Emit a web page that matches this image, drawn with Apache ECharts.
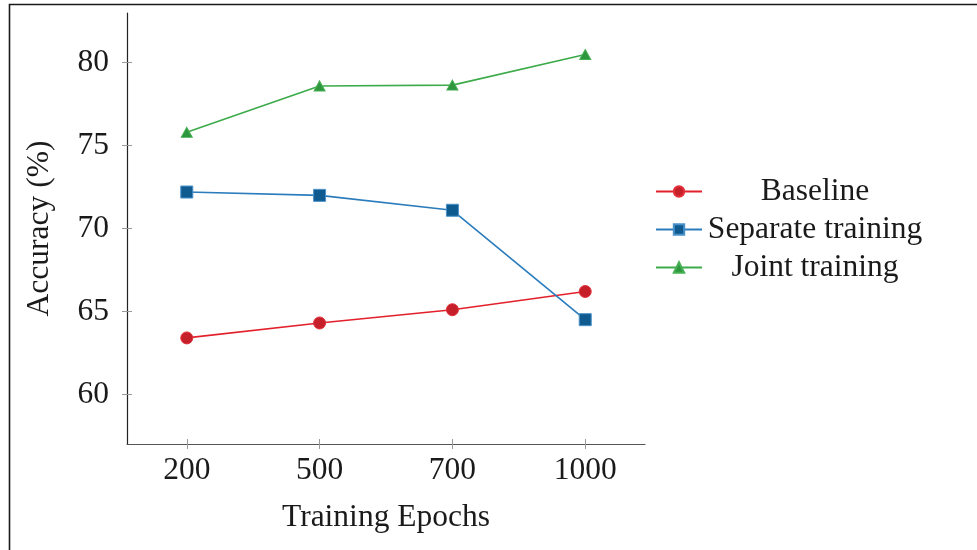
<!DOCTYPE html>
<html>
<head>
<meta charset="utf-8">
<script src="https://cdn.jsdelivr.net/npm/echarts@6/dist/echarts.min.js"></script>
<style>
  html, body { margin: 0; padding: 0; background: #fff; }
  #chart { width: 977px; height: 550px; }
</style>
</head>
<body>
<div id="chart"></div>
<script>
// Training epochs (x categories) and accuracy per method
const epochs = ['200', '500', '700', '1000'];
const baseline = [63.4, 64.3, 65.1, 66.2];
const separateTraining = [72.2, 72.0, 71.1, 64.5];
const jointTraining = [75.8, 78.6, 78.65, 80.5];
const yTicks = [60, 65, 70, 75, 80];

const FONT = 'Liberation Serif';
const FS = 31.5;
const xIdx = epochs.map((_, i) => i);
const pairs = arr => arr.map((v, i) => [i, v]);

const chart = echarts.init(document.getElementById('chart'), null, { renderer: 'canvas' });

const tickColor = '#9a9a9a';

chart.setOption({
  animation: false,
  backgroundColor: '#fff',
  textStyle: { fontFamily: FONT },
  graphic: [{
    type: 'rect',
    shape: { x: 9.5, y: 4.5, width: 1100, height: 700 },
    style: { fill: 'none', stroke: '#1a1a1a', lineWidth: 1.6 },
    silent: true, z: 100
  }],
  grid: { left: 127, top: 13, width: 518, height: 431 },
  legend: {
    orient: 'vertical',
    left: 655,
    top: 175,
    padding: 0,
    itemWidth: 46,
    itemHeight: 13,
    itemGap: 5,
    formatter: '{a|{name}}',
    textStyle: {
      fontFamily: FONT, fontSize: FS, color: '#1a1a1a', lineHeight: 33,
      rich: { a: { width: 216, align: 'center', fontFamily: FONT, fontSize: FS, color: '#1a1a1a', lineHeight: 33 } }
    },
    data: ['Baseline', 'Separate training', 'Joint training']
  },
  xAxis: [{
    type: 'value',
    min: -0.45,
    max: 3.45,
    name: 'Training Epochs',
    nameLocation: 'middle',
    nameGap: 58,
    nameTextStyle: { fontFamily: FONT, fontSize: FS, color: '#1a1a1a' },
    axisLine: { show: true, onZero: false, lineStyle: { color: '#555', width: 1.2 } },
    axisTick: { show: true, length: 5, customValues: xIdx, lineStyle: { color: tickColor } },
    axisLabel: {
      customValues: xIdx, margin: 11,
      fontFamily: FONT, fontSize: FS, color: '#1a1a1a',
      formatter: v => epochs[Math.round(v)]
    },
    splitLine: { show: false }
  }, {
    // inner half of the crossing ticks
    type: 'value', min: -0.45, max: 3.45, position: 'bottom', offset: 0,
    axisLine: { show: false, onZero: false },
    axisTick: { show: true, inside: true, length: 5, customValues: xIdx, lineStyle: { color: tickColor } },
    axisLabel: { show: false },
    splitLine: { show: false }
  }],
  yAxis: [{
    type: 'value',
    min: 57,
    max: 83,
    name: 'Accuracy (%)',
    nameLocation: 'middle',
    nameGap: 71,
    nameTextStyle: { fontFamily: FONT, fontSize: FS, color: '#1a1a1a' },
    axisLine: { show: true, onZero: false, lineStyle: { color: '#222', width: 1.2 } },
    axisTick: { show: true, length: 5, customValues: yTicks, lineStyle: { color: tickColor } },
    axisLabel: { customValues: yTicks, margin: 18, fontFamily: FONT, fontSize: FS, color: '#1a1a1a' },
    splitLine: { show: false }
  }, {
    type: 'value', min: 57, max: 83, position: 'left', offset: 0,
    axisLine: { show: false, onZero: false },
    axisTick: { show: true, inside: true, length: 5, customValues: yTicks, lineStyle: { color: tickColor } },
    axisLabel: { show: false },
    splitLine: { show: false }
  }],
  series: [{
    name: 'Baseline',
    type: 'line',
    data: pairs(baseline),
    symbol: 'circle',
    symbolSize: 12,
    lineStyle: { color: '#e3202b', width: 1.6 },
    itemStyle: { color: '#c51f2a', borderColor: '#e3303a', borderWidth: 1 }
  }, {
    name: 'Separate training',
    type: 'line',
    data: pairs(separateTraining),
    symbol: 'rect',
    symbolSize: 12,
    lineStyle: { color: '#2a7cbd', width: 1.6 },
    itemStyle: { color: '#0f5b8f', borderColor: '#4a91c9', borderWidth: 1 }
  }, {
    name: 'Joint training',
    type: 'line',
    data: pairs(jointTraining),
    symbol: 'triangle',
    symbolSize: [11, 10],
    lineStyle: { color: '#3cab4a', width: 1.6 },
    itemStyle: { color: '#2e963c', borderColor: '#45b053', borderWidth: 1 }
  }]
});
</script>
</body>
</html>
